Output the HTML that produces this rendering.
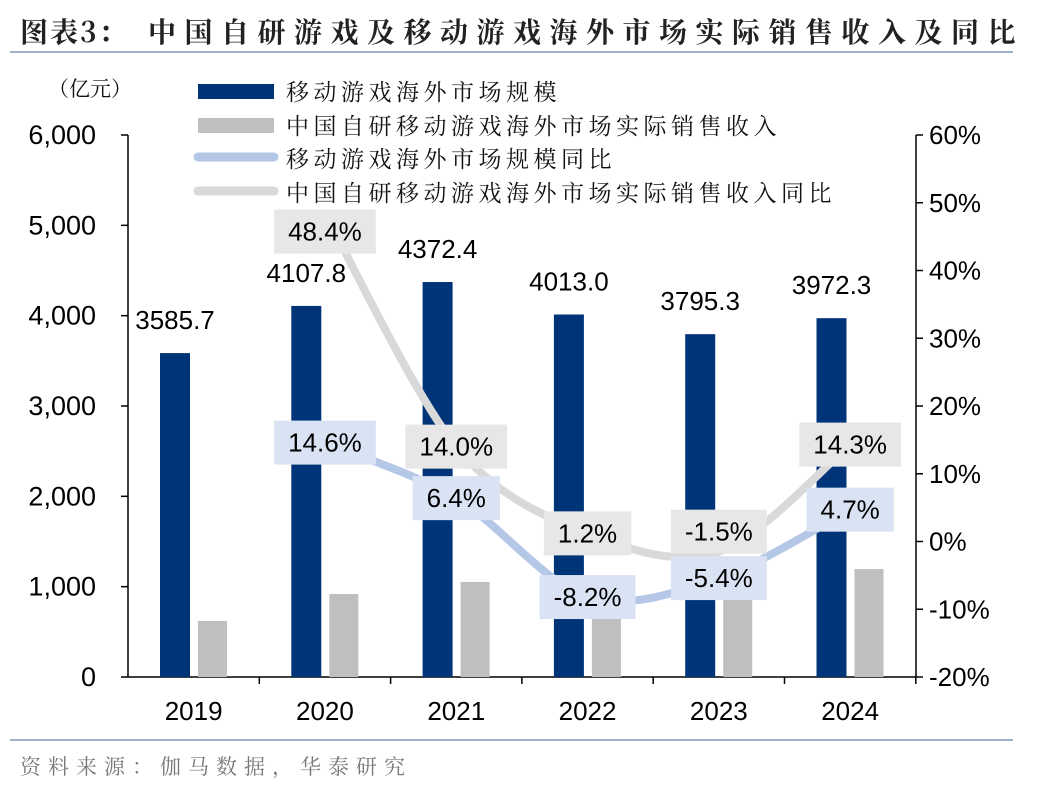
<!DOCTYPE html>
<html><head><meta charset="utf-8"><style>
body{margin:0;background:#fff;width:1048px;height:792px;overflow:hidden;font-family:"Liberation Sans","Noto Sans CJK SC",sans-serif}
svg text{font-family:"Liberation Sans","Noto Sans CJK SC",sans-serif}
.serif{font-family:"Noto Serif CJK SC","Liberation Serif",serif !important}
</style></head><body>
<svg id="c" width="1048" height="792" xmlns="http://www.w3.org/2000/svg">
<text x="20" y="42" font-size="28" font-weight="bold" fill="#222" class="serif"><tspan letter-spacing="2">图表3：</tspan><tspan x="148" letter-spacing="8.5">中国自研游戏及移动游戏海外市场实际销售收入及同比</tspan></text>
<rect x="10" y="51" width="1003" height="2" fill="#9fb3c8"/>
<rect x="10" y="739" width="1003" height="2" fill="#9fb3c8"/>
<text x="20" y="774" font-size="21" fill="#777" letter-spacing="7" class="serif">资料来源：伽马数据，华泰研究</text>
<text x="48" y="96" font-size="21" fill="#111" class="serif">（亿元）</text>
<g id="legend">
<rect x="198" y="84" width="76" height="15" fill="#003478"/>
<text x="286" y="100" font-size="23" fill="#111" letter-spacing="4.5" class="serif">移动游戏海外市场规模</text>
<rect x="198" y="118" width="76" height="15" fill="#bfbfbf"/>
<text x="286" y="134" font-size="23" fill="#111" letter-spacing="4.5" class="serif">中国自研移动游戏海外市场实际销售收入</text>
<line x1="198" y1="157" x2="274" y2="157" stroke="#b4c7e7" stroke-width="9" stroke-linecap="round"/>
<text x="286" y="167" font-size="23" fill="#111" letter-spacing="4.5" class="serif">移动游戏海外市场规模同比</text>
<line x1="198" y1="191" x2="274" y2="191" stroke="#d9d9d9" stroke-width="9" stroke-linecap="round"/>
<text x="286" y="201" font-size="23" fill="#111" letter-spacing="4.5" class="serif">中国自研移动游戏海外市场实际销售收入同比</text>
</g>
<g id="plot"></g>
</svg>
<script>
const categories=["2019","2020","2021","2022","2023","2024"];
const marketValues=[3585.7,4107.8,4372.4,4013.0,3795.3,3972.3];
const chinaValues=[620,919,1052,1064,1048,1195];
const marketYoy=[null,14.6,6.4,-8.2,-5.4,4.7];
const chinaYoy=[null,48.4,14.0,1.2,-1.5,14.3];
const leftTicks=[0,1000,2000,3000,4000,5000,6000];
const rightTicks=[-20,-10,0,10,20,30,40,50,60];
const chinaLabelShift=[0,18,0,0,-20,0];
const NS="http://www.w3.org/2000/svg";
const g=document.getElementById('plot');
const X0=128,BW=131.3,Y0=677,YT=135;
const yL=v=>Y0-(v/6000)*(Y0-YT);
const yR=v=>Y0-((v+20)/80)*(Y0-YT);
const cx=i=>X0+BW*i+BW/2;
function mk(t,a){const e=document.createElementNS(NS,t);for(const k in a)e.setAttribute(k,a[k]);g.appendChild(e);return e;}
const RX=916;
let e=mk('line',{x1:X0,y1:YT,x2:X0,y2:Y0,stroke:'#000','stroke-width':1.5});


e=mk('line',{x1:RX,y1:YT,x2:RX,y2:Y0,stroke:'#000','stroke-width':1.5});


e=mk('line',{x1:X0,y1:Y0,x2:RX,y2:Y0,stroke:'#000','stroke-width':1.5});


leftTicks.forEach(v=>{
 let t=mk('line',{x1:X0-7,x2:X0,y1:yL(v),y2:yL(v),stroke:'#000','stroke-width':1.5});
 
 
 t=mk('text',{x:96,y:yL(v)+9,'font-size':27,'text-anchor':'end',fill:'#000'});
 t.textContent=v.toLocaleString('en-US');
 
 
});
rightTicks.forEach(v=>{
 let t=mk('line',{x1:RX,x2:RX+7,y1:yR(v),y2:yR(v),stroke:'#000','stroke-width':1.5});
 
 
 t=mk('text',{x:RX+13,y:yR(v)+9,'font-size':26,fill:'#000'});
 t.textContent=v+'%';
 
 
});
categories.forEach((c,i)=>{
 let t=mk('line',{x1:X0+BW*(i+1),x2:X0+BW*(i+1),y1:Y0,y2:Y0+7,stroke:'#000','stroke-width':1.5});
 
 
 t=mk('text',{x:cx(i),y:Y0+43,'font-size':26,'text-anchor':'middle',fill:'#000'});
 t.textContent=c;
 
 
});
categories.forEach((c,i)=>{
 const x=X0+BW*i;
 let b=mk('rect',{x:x+32,y:yL(marketValues[i]),width:30,height:Y0-yL(marketValues[i]),fill:'#003478'});
 
 
 b=mk('rect',{x:x+70,y:yL(chinaValues[i]),width:29,height:Y0-yL(chinaValues[i]),fill:'#bfbfbf'});
 
 
 let t=mk('text',{x:x+47,y:yL(marketValues[i])-24,'font-size':26,'text-anchor':'middle',fill:'#000'});
 t.textContent=marketValues[i].toFixed(1);
 
 
});
function smooth(pts){
 let d='M'+pts[0][0]+','+pts[0][1];
 for(let i=0;i<pts.length-1;i++){
  const p0=pts[i-1]||pts[i],p1=pts[i],p2=pts[i+1],p3=pts[i+2]||p2,k=0.16;
  d+=' C'+(p1[0]+(p2[0]-p0[0])*k)+','+(p1[1]+(p2[1]-p0[1])*k)+' '+(p2[0]-(p3[0]-p1[0])*k)+','+(p2[1]-(p3[1]-p1[1])*k)+' '+p2[0]+','+p2[1];
 }
 return d;
}
function series(vals,color,bg,name,shift){
 const pts=[];vals.forEach((v,i)=>{if(v!==null)pts.push([cx(i),yR(v)]);});
 let p=mk('path',{d:smooth(pts),fill:'none',stroke:color,'stroke-width':8,'stroke-linecap':'round'});
 
 
 return ()=>vals.forEach((v,i)=>{if(v===null)return;
  const s=v.toFixed(1)+'%';
  const cy=yR(v)+(shift?shift[i]:0);
  let r=mk('rect',{x:0,y:cy-22,width:10,height:44,fill:bg});
  
  
  let t=mk('text',{x:cx(i),y:cy+9,'font-size':26,'text-anchor':'middle',fill:'#000'});
  t.textContent=s;
  
  
  const w=t.getComputedTextLength()+28;
  r.setAttribute('x',cx(i)-w/2);r.setAttribute('width',w);
 });
}
const lg=series(chinaYoy,'#d9d9d9','#e7e7e7','china-yoy',chinaLabelShift);
const lb=series(marketYoy,'#b4c7e7','#dae3f3','market-yoy',null);
lg();lb();
</script>
</body></html>
